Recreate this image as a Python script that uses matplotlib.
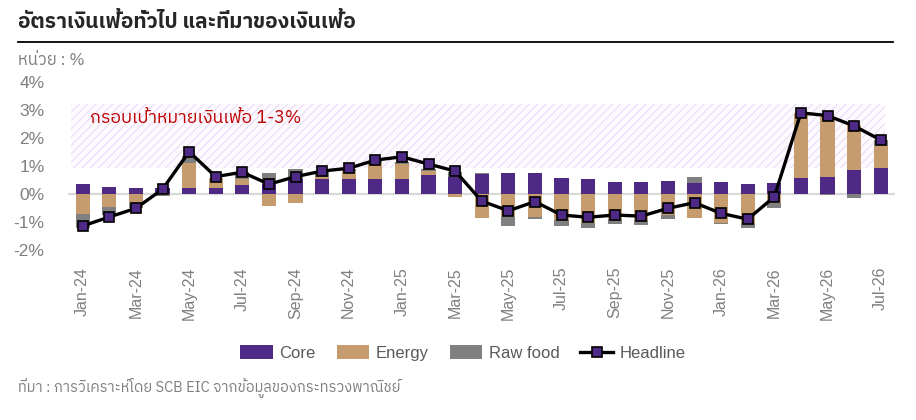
import matplotlib
matplotlib.use("Agg")
import matplotlib.pyplot as plt
from matplotlib import font_manager as fm
from matplotlib.ft2font import FT2Font
from matplotlib.patches import Patch
from matplotlib.lines import Line2D
import numpy as np

# ---------------- data ----------------
months = ["Jan-24", "Feb-24", "Mar-24", "Apr-24", "May-24", "Jun-24", "Jul-24", "Aug-24",
          "Sep-24", "Oct-24", "Nov-24", "Dec-24", "Jan-25", "Feb-25", "Mar-25", "Apr-25",
          "May-25", "Jun-25", "Jul-25", "Aug-25", "Sep-25", "Oct-25", "Nov-25", "Dec-25",
          "Jan-26", "Feb-26", "Mar-26", "Apr-26", "May-26", "Jun-26", "Jul-26"]
core = [0.38, 0.27, 0.24, 0.24, 0.24, 0.24, 0.33, 0.38, 0.54, 0.53,
        0.54, 0.54, 0.54, 0.69, 0.61, 0.71, 0.75, 0.75, 0.57, 0.55,
        0.43, 0.43, 0.46, 0.39, 0.43, 0.37, 0.41, 0.57, 0.63, 0.87, 0.93]
energy = [-0.70, -0.44, -0.32, -0.02, 0.89, 0.33, 0.21, -0.41, -0.32, 0.08,
          0.30, 0.59, 0.54, 0.15, -0.11, -0.86, -0.82, -0.82, -0.92, -1.01,
          -0.89, -0.92, -0.74, -0.86, -1.04, -1.04, -0.32, 2.32, 2.14, 1.61, 0.79]
raw_food = [-0.51, -0.30, -0.18, -0.03, 0.24, 0.03, 0.25, 0.39, 0.36, 0.22,
            0.05, 0.05, 0.08, 0.06, 0.20, 0.04, -0.31, -0.05, -0.21, -0.20,
            -0.18, -0.18, -0.15, 0.24, -0.03, -0.17, -0.16, 0.02, -0.04, -0.12, 0.22]
headline = [-1.13, -0.81, -0.50, 0.18, 1.52, 0.63, 0.79, 0.36, 0.63, 0.83,
            0.93, 1.22, 1.34, 1.08, 0.83, -0.24, -0.59, -0.26, -0.74, -0.82,
            -0.74, -0.78, -0.50, -0.30, -0.68, -0.89, -0.09, 2.91, 2.81, 2.44, 1.94]
target_band = [0.93, 3.24]
yticks = [-2, -1, 0, 1, 2, 3, 4]
ytick_labels = ["-2%", "-1%", "0%", "1%", "2%", "3%", "4%"]
series_names = ["Core", "Energy", "Raw food", "Headline"]

title_text = "อัตราเงินเฟ้อทั่วไป และที่มาของเงินเฟ้อ"
unit_text = "หน่วย : %"
band_text = "กรอบเป้าหมายเงินเฟ้อ 1-3%"
source_text = "ที่มา : การวิเคราะห์โดย SCB EIC จากข้อมูลของกระทรวงพาณิชย์"

# ---------------- fonts ----------------
def find_thai_font():
    prefs = ["Thai", "Sarabun", "Tlwg", "Garuda", "Loma", "Waree", "Umpush", "Kinnari", "Laksaman", "Norasi"]
    cands = []
    seen = set()
    for f in fm.fontManager.ttflist:
        if f.name in seen:
            continue
        try:
            cmap = FT2Font(f.fname).get_charmap()
        except Exception:
            continue
        if 0x0E01 in cmap and 0x0E49 in cmap and 0x0E40 in cmap:
            seen.add(f.name)
            score = 0
            for i, p in enumerate(prefs):
                if p.lower() in f.name.lower():
                    score = len(prefs) - i
                    break
            if "looped" in f.name.lower():
                score -= 5
            cands.append((score, f.name))
    if not cands:
        return None
    cands.sort(key=lambda t: -t[0])
    return cands[0][1]

thai = find_thai_font()
latin = "Liberation Sans"
fam_thai = ([thai] if thai else []) + [latin, "DejaVu Sans"]
fam_latin = [latin, "DejaVu Sans"]
plt.rcParams["font.family"] = fam_latin
plt.rcParams["hatch.linewidth"] = 0.6

# ---------------- colours ----------------
c_core = "#4E2A86"
c_energy = "#C69C6E"
c_raw = "#808080"
c_grey_text = "#7F7F7F"

W, H = 916, 420
fig = plt.figure(figsize=(W / 100, H / 100), dpi=100)

# axes placement (pixels)
x0, x1 = 68, 895
ylo, yhi = -2.1, 4.15
zero_px, per_pct = 194.3, 28.0
top_px = zero_px - yhi * per_pct
bot_px = zero_px - ylo * per_pct
ax = fig.add_axes([x0 / W, 1 - bot_px / H, (x1 - x0) / W, (bot_px - top_px) / H])

n = len(months)
x = np.arange(n)
step = 26.6
xmin = (x0 - 82.7) / step
xmax = (x1 - 82.7) / step
ax.set_xlim(xmin, xmax)
ax.set_ylim(ylo, yhi)

# target band (hatched)
ax.fill_between([-0.44, n - 0.85], target_band[0], target_band[1], facecolor="#FDFAFE",
                edgecolor="#E4D2F4", hatch="////", linewidth=0, zorder=0)

# zero line
ax.axhline(0, color="#D9D9D9", lw=1.6, zorder=1)

# stacked bars: positives up, negatives down
pos_base = np.zeros(n)
neg_base = np.zeros(n)
bw = 0.53
for vals, col in [(core, c_core), (energy, c_energy), (raw_food, c_raw)]:
    v = np.array(vals)
    bottoms = np.where(v >= 0, pos_base, neg_base)
    ax.bar(x, v, bw, bottom=bottoms, color=col, zorder=2, linewidth=0)
    pos_base = pos_base + np.where(v > 0, v, 0)
    neg_base = neg_base + np.where(v < 0, v, 0)

# headline
ax.plot(x, headline, color="black", lw=2.4, marker="s", markersize=7.5,
        markerfacecolor=c_core, markeredgecolor="black", markeredgewidth=1.2, zorder=4)

for s in ax.spines.values():
    s.set_visible(False)
ax.set_yticks(yticks)
ax.set_yticklabels(ytick_labels)
ax.set_xticks(x[::2])
ax.set_xticklabels(months[::2], rotation=90)
ax.tick_params(axis="both", length=0, colors=c_grey_text)
ax.tick_params(axis="y", labelsize=12.5, pad=17)
ax.tick_params(axis="x", labelsize=11.5, pad=10)
ax.patch.set_alpha(0)

# band label
ax.text((90 - x0) / (x1 - x0), 1 - (118 - top_px) / (bot_px - top_px), band_text,
        transform=ax.transAxes, color="#C00000", fontsize=12.8, va="center", ha="left",
        family=fam_thai)

# title + underline
fig.text(18 / W, 1 - 22 / H, title_text, fontsize=15, color="#262626", va="center",
         ha="left", family=fam_thai, weight="bold")
fig.add_artist(Line2D([18 / W, 893 / W], [1 - 42 / H, 1 - 42 / H], color="black", lw=1.3))
fig.text(18 / W, 1 - 60 / H, unit_text, fontsize=12, color=c_grey_text, va="center",
         ha="left", family=fam_thai)
fig.text(18 / W, 1 - 388 / H, source_text, fontsize=10.5, color=c_grey_text, va="center",
         ha="left", family=fam_thai)

# legend
handles = [Patch(facecolor=c_core, edgecolor="none"),
           Patch(facecolor=c_energy, edgecolor="none"),
           Patch(facecolor=c_raw, edgecolor="none"),
           Line2D([0], [0], color="black", lw=2.4, marker="s", markersize=7.5,
                  markerfacecolor=c_core, markeredgecolor="black", markeredgewidth=1.2)]
leg = fig.legend(handles, series_names, loc="center", bbox_to_anchor=(463 / W, 1 - 353 / H),
                 ncol=4, frameon=False, fontsize=12, handlelength=1.95, handleheight=0.95,
                 handletextpad=0.4, columnspacing=1.25, labelcolor="#595959")

fig.savefig("out.png", dpi=100)
